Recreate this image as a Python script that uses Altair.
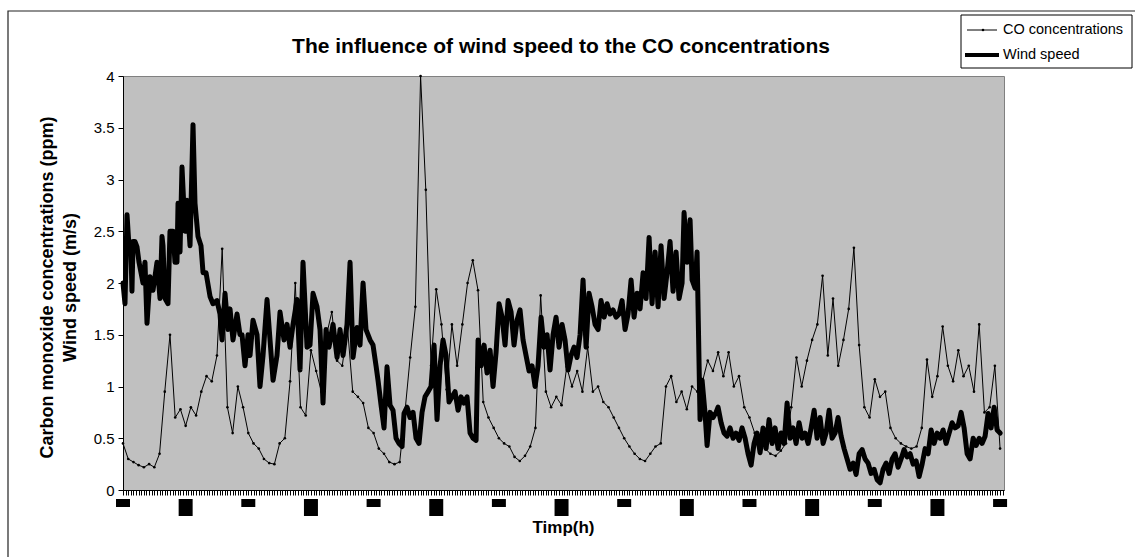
import altair as alt
import pandas as pd

FONT = "Liberation Sans"

# ---- CO concentration, hourly readings over 7 days ----
hours = list(range(169))
co_ppm = [
    0.45, 0.30, 0.27, 0.24, 0.22, 0.25, 0.22, 0.35, 0.95, 1.50,
    0.70, 0.78, 0.62, 0.80, 0.72, 0.95, 1.10, 1.05, 1.30, 2.33,
    0.80, 0.55, 1.00, 0.80, 0.55, 0.45, 0.40, 0.30, 0.26, 0.25,
    0.45, 0.50, 1.05, 2.00, 0.80, 0.72, 1.35, 1.15, 0.95, 1.50,
    1.72, 1.25, 1.20, 1.57, 0.95, 0.90, 0.84, 0.60, 0.55, 0.40,
    0.35, 0.27, 0.25, 0.27, 0.75, 1.28, 1.77, 4.00, 2.90, 1.20,
    1.94, 1.60, 0.97, 1.60, 1.20, 1.60, 2.00, 2.22, 1.93, 0.85,
    0.70, 0.60, 0.50, 0.45, 0.42, 0.32, 0.28, 0.33, 0.42, 0.60,
    1.88, 0.95, 0.80, 0.90, 0.82, 1.19, 1.00, 1.15, 0.95, 1.38,
    0.95, 1.00, 0.85, 0.80, 0.70, 0.60, 0.50, 0.42, 0.35, 0.30,
    0.28, 0.35, 0.42, 0.45, 1.00, 1.10, 0.85, 0.95, 0.78, 1.00,
    0.95, 1.05, 1.25, 1.15, 1.33, 1.10, 1.33, 1.00, 1.10, 0.80,
    0.70, 0.55, 0.48, 0.40, 0.35, 0.33, 0.38, 0.45, 0.80, 1.28,
    1.00, 1.25, 1.45, 1.60, 2.07, 1.30, 1.85, 1.20, 1.45, 1.75,
    2.34, 1.40, 0.80, 0.70, 1.07, 0.90, 0.95, 0.60, 0.50, 0.45,
    0.42, 0.40, 0.42, 0.60, 1.26, 0.90, 1.10, 1.58, 1.20, 1.05,
    1.35, 1.10, 1.20, 0.95, 1.60, 0.75, 0.80, 1.20, 0.40,
]

# ---- wind speed readings (time in hours, value in m/s) ----
wind_hours = [
    0.00, 0.38, 0.77, 1.15, 1.53, 1.72, 1.92, 2.30, 2.68, 3.07,
    3.64, 3.83, 4.21, 4.60, 5.17, 5.75, 6.51, 7.09, 7.47, 7.66,
    8.05, 8.62, 9.00, 9.58, 9.96, 10.34, 10.54, 10.92, 11.30, 11.88,
    12.26, 12.84, 13.41, 13.79, 14.37, 14.94, 15.33, 15.90, 16.67, 17.24,
    18.01, 18.58, 18.97, 19.54, 20.11, 20.50, 21.07, 21.84, 22.41, 22.80,
    23.37, 23.95, 24.33, 24.90, 25.67, 26.24, 26.82, 27.59, 28.16, 28.74,
    29.50, 30.08, 30.84, 31.42, 31.99, 32.57, 33.33, 33.91, 34.48, 35.25,
    35.82, 36.40, 37.16, 37.74, 38.31, 38.89, 39.46, 40.23, 41.00, 41.57,
    42.15, 42.91, 43.49, 44.06, 44.83, 45.40, 45.98, 46.55, 47.32, 47.89,
    48.47, 48.85, 49.43, 50.00, 50.57, 51.15, 51.72, 52.30, 52.87, 53.45,
    53.83, 54.41, 54.98, 55.56, 56.13, 56.70, 57.28, 57.85, 58.43, 59.00,
    59.58, 60.15, 60.73, 61.30, 61.88, 62.45, 63.03, 63.60, 64.18, 64.75,
    65.33, 65.90, 66.48, 67.05, 67.63, 68.01, 68.58, 69.16, 69.73, 70.31,
    70.88, 71.46, 72.03, 72.61, 73.18, 73.76, 74.33, 74.90, 75.48, 76.05,
    76.63, 77.20, 77.78, 78.35, 78.93, 79.50, 80.08, 80.65, 81.23, 81.80,
    82.38, 82.95, 83.52, 84.10, 84.67, 85.25, 85.82, 86.40, 86.97, 87.55,
    88.12, 88.70, 89.27, 89.85, 90.42, 91.00, 91.57, 92.15, 92.72, 93.29,
    93.87, 94.44, 95.02, 95.59, 96.17, 96.74, 97.32, 97.89, 98.47, 99.04,
    99.62, 100.19, 100.77, 101.34, 101.92, 102.49, 103.06, 103.64, 104.21, 104.79,
    105.36, 105.94, 106.51, 107.09, 107.47, 108.05, 108.62, 109.00, 109.58, 109.96,
    110.53, 110.92, 111.49, 111.88, 112.45, 113.03, 113.60, 113.98, 114.56, 115.13,
    115.71, 116.28, 116.86, 117.43, 118.01, 118.58, 119.16, 119.73, 120.31, 120.88,
    121.46, 122.03, 122.60, 123.18, 123.75, 124.33, 124.90, 125.48, 126.05, 126.63,
    127.20, 127.78, 128.35, 128.93, 129.50, 130.08, 130.65, 131.23, 131.80, 132.38,
    132.95, 133.52, 134.10, 134.67, 135.25, 135.82, 136.40, 136.97, 137.55, 138.12,
    138.70, 139.27, 139.85, 140.42, 141.00, 141.57, 142.15, 142.72, 143.30, 143.87,
    144.44, 145.02, 145.59, 146.17, 146.74, 147.32, 147.89, 148.47, 149.04, 149.62,
    150.19, 150.77, 151.34, 151.92, 152.49, 153.07, 153.64, 154.22, 154.79, 155.37,
    155.94, 156.51, 157.09, 157.66, 158.24, 158.81, 159.39, 159.96, 160.54, 161.11,
    161.69, 162.26, 162.84, 163.41, 164.00, 164.56, 165.13, 165.71, 166.28, 166.86,
    167.43, 168.00,
]
wind_ms = [
    2.00, 1.80, 2.66, 2.35, 2.30, 1.92, 2.40, 2.40, 2.35, 2.20,
    2.05, 2.00, 2.20, 1.61, 2.06, 1.93, 2.20, 1.85, 2.45, 2.36,
    1.85, 1.80, 2.50, 2.50, 2.20, 2.20, 2.77, 2.30, 3.12, 2.50,
    2.80, 2.36, 3.53, 2.77, 2.45, 2.36, 2.10, 2.10, 1.87, 1.80,
    1.83, 1.70, 1.45, 1.90, 1.55, 1.75, 1.45, 1.70, 1.50, 1.50,
    1.20, 1.50, 1.30, 1.64, 1.50, 1.00, 1.30, 1.84, 1.45, 1.06,
    1.30, 1.72, 1.45, 1.60, 1.38, 1.60, 1.84, 1.16, 2.20, 1.38,
    1.40, 1.90, 1.77, 1.55, 0.84, 1.55, 1.38, 1.60, 1.28, 1.55,
    1.30, 1.60, 2.20, 1.28, 1.57, 1.40, 2.00, 1.55, 1.45, 1.40,
    1.20, 1.06, 0.82, 0.60, 1.19, 0.82, 0.77, 0.50, 0.45, 0.42,
    0.74, 0.80, 0.70, 0.75, 0.50, 0.45, 0.75, 0.90, 0.95, 1.00,
    1.40, 0.68, 1.20, 1.45, 1.30, 0.85, 0.90, 0.95, 0.77, 0.90,
    0.84, 0.90, 0.55, 0.50, 0.48, 1.45, 1.20, 1.40, 1.13, 1.35,
    1.00, 1.33, 1.80, 1.67, 1.40, 1.83, 1.72, 1.40, 1.64, 1.74,
    1.45, 1.30, 1.15, 1.20, 1.00, 1.20, 1.67, 1.38, 1.50, 1.16,
    1.50, 1.67, 1.38, 1.60, 1.45, 1.16, 1.30, 1.38, 1.28, 1.50,
    2.03, 1.38, 1.90, 1.77, 1.60, 1.55, 1.83, 1.67, 1.80, 1.70,
    1.74, 1.67, 1.70, 1.83, 1.55, 1.70, 2.03, 1.67, 1.90, 1.75,
    2.10, 1.85, 2.44, 1.80, 2.30, 1.77, 2.36, 1.85, 2.10, 2.40,
    1.92, 2.30, 1.85, 2.00, 2.68, 2.20, 2.61, 2.03, 1.95, 2.30,
    0.68, 1.06, 0.74, 0.43, 0.75, 0.70, 0.75, 0.80, 0.65, 0.55,
    0.52, 0.60, 0.50, 0.55, 0.48, 0.60, 0.50, 0.35, 0.24, 0.45,
    0.55, 0.36, 0.60, 0.40, 0.68, 0.45, 0.60, 0.40, 0.55, 0.45,
    0.84, 0.50, 0.60, 0.45, 0.65, 0.50, 0.55, 0.45, 0.60, 0.77,
    0.50, 0.70, 0.45, 0.55, 0.77, 0.50, 0.55, 0.70, 0.52, 0.40,
    0.30, 0.20, 0.26, 0.15, 0.35, 0.39, 0.30, 0.26, 0.16, 0.20,
    0.10, 0.07, 0.20, 0.26, 0.16, 0.30, 0.35, 0.22, 0.30, 0.39,
    0.32, 0.35, 0.25, 0.28, 0.13, 0.25, 0.40, 0.35, 0.58, 0.45,
    0.55, 0.50, 0.58, 0.45, 0.55, 0.65, 0.60, 0.62, 0.75, 0.60,
    0.35, 0.30, 0.50, 0.43, 0.50, 0.45, 0.52, 0.74, 0.60, 0.80,
    0.58, 0.55,
]

label_hours = [0, 12, 24, 36, 48, 60, 72, 84, 96, 108, 120, 132, 144, 156, 168]
y_ticks = [0, 0.5, 1, 1.5, 2, 2.5, 3, 3.5, 4]
tick_hours = [h / 2 for h in range(0, 338)]

title_text = "The influence of wind speed to the CO concentrations"
y_title = ["Carbon monoxide concentrations (ppm)", "Wind speed (m/s)"]
x_title = "Timp(h)"
legend_labels = ["CO concentrations", "Wind speed"]

co_df = pd.DataFrame({"hour": hours, "value": co_ppm})
wind_df = pd.DataFrame({"hour": wind_hours, "value": wind_ms})
lab = pd.DataFrame({"h": label_hours, "idx": list(range(len(label_hours)))})
one = pd.DataFrame({"a": [0]})

W, H = 881, 414
xscale = alt.Scale(domain=[0, 168.75], nice=False, zero=False)
yscale = alt.Scale(domain=[0, 4], nice=False)

x_axis = alt.Axis(
    values=tick_hours, labels=False, tickSize=5, tickColor="black", tickWidth=1,
    domainColor="black", domainWidth=1, grid=False,
    title=x_title, titleFont=FONT, titleFontSize=17, titleFontWeight="bold",
    titleColor="black", titleX=440, titleY=42, titleBaseline="alphabetic",
    titleAlign="center",
)
y_axis = alt.Axis(
    values=y_ticks, format="~g", tickSize=5, tickColor="black", tickWidth=1,
    domainColor="black", domainWidth=1, grid=False,
    labelFont=FONT, labelFontSize=15, labelColor="black", labelPadding=4,
    title=y_title, titleFont=FONT, titleFontSize=18, titleFontWeight="bold",
    titleColor="black", titleAngle=270, titleX=-76, titleY=211,
    titleAlign="center", titleBaseline="middle", titleLineHeight=23,
)

X = alt.X("hour:Q", scale=xscale, axis=x_axis)
Y = alt.Y("value:Q", scale=yscale, axis=y_axis)

co_line = alt.Chart(co_df).mark_line(color="black", strokeWidth=1).encode(x=X, y=Y)
co_pts = alt.Chart(co_df).mark_circle(color="black", size=7, opacity=1).encode(x=X, y=Y)
wind_line = alt.Chart(wind_df).mark_line(
    color="black", strokeWidth=5, strokeJoin="round", strokeCap="round"
).encode(x=X, y=Y)

# the overlapping x tick labels appear as black blocks
blob_base = alt.Chart(lab).transform_calculate(
    x1="datum.h - 1.34", x2="datum.h + 1.34"
)
blobs_short = blob_base.transform_filter("datum.idx % 2 == 0").mark_rect(color="black").encode(
    x=alt.X("x1:Q", scale=xscale, axis=x_axis), x2="x2:Q",
    y=alt.value(423), y2=alt.value(431),
)
blobs_tall = blob_base.transform_filter("datum.idx % 2 == 1").mark_rect(color="black").encode(
    x=alt.X("x1:Q", scale=xscale, axis=x_axis), x2="x2:Q",
    y=alt.value(423), y2=alt.value(440),
)

ann = alt.Chart(one)
frame = ann.mark_rect(fillOpacity=0, stroke="#222222", strokeWidth=1.2).encode(
    x=alt.value(-115), x2=alt.value(1030), y=alt.value(-65), y2=alt.value(500)
)
title = ann.mark_text(
    text=title_text, font=FONT, fontSize=21, fontWeight="bold", color="black",
    align="center", baseline="alphabetic",
).encode(x=alt.value(438), y=alt.value(-23))

leg_box = ann.mark_rect(fill="white", stroke="black", strokeWidth=1).encode(
    x=alt.value(838), x2=alt.value(1009), y=alt.value(-61), y2=alt.value(-8)
)
leg_l1 = ann.mark_rule(color="black", strokeWidth=1).encode(
    x=alt.value(844), x2=alt.value(874), y=alt.value(-46)
)
leg_p1 = ann.mark_circle(color="black", size=7, opacity=1).encode(
    x=alt.value(860), y=alt.value(-46)
)
leg_l2 = ann.mark_rule(color="black", strokeWidth=4).encode(
    x=alt.value(842), x2=alt.value(876), y=alt.value(-21)
)
leg_t1 = ann.mark_text(
    text=legend_labels[0], font=FONT, fontSize=14.5, color="black",
    align="left", baseline="middle",
).encode(x=alt.value(880), y=alt.value(-46))
leg_t2 = ann.mark_text(
    text=legend_labels[1], font=FONT, fontSize=14.5, color="black",
    align="left", baseline="middle",
).encode(x=alt.value(880), y=alt.value(-21))

chart = alt.layer(
    frame, co_line, co_pts, wind_line, blobs_short, blobs_tall,
    title, leg_box, leg_l1, leg_p1, leg_l2, leg_t1, leg_t2,
).properties(
    width=W, height=H,
    autosize=alt.AutoSizeParams(type="none"),
    padding={"left": 123, "top": 76, "right": 131, "bottom": 67},
    background="white",
).configure_view(
    fill="#C0C0C0", stroke="#808080", strokeWidth=1
)

chart.save("out.html", embed_options={"renderer": "svg", "actions": False})
